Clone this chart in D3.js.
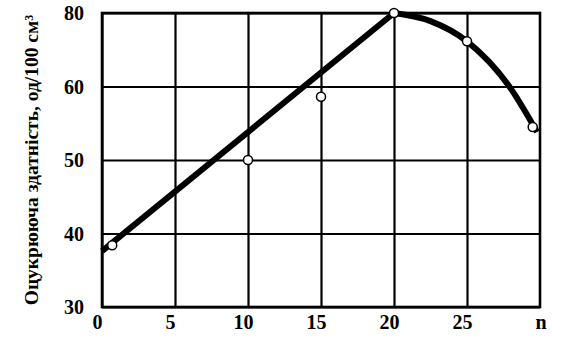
<!DOCTYPE html>
<html>
<head>
<meta charset="utf-8">
<script src="https://cdn.jsdelivr.net/npm/d3@7"></script>
<style>
  body { margin: 0; background: #fff; }
  text { font-family: "Liberation Serif", "Times New Roman", serif; font-weight: bold; fill: #000; }
</style>
</head>
<body>
<div id="chart"></div>
<script>
/* DATA */
const xTicks = [0, 5, 10, 15, 20, 25];
const yTicks = [30, 40, 50, 60, 80];   // the axis is printed 30,40,50,60,80 at equal steps
const xLabel = "n";
const yLabel = "Оцукрююча здатність, од/100 см";

// measured points (n, value)
const pointsN = [0.7, 10, 15, 20, 25, 29.5];
const pointsV = [38.4, 50, 58.6, 80, 72.3, 54.5];

// fitted straight part and the falling curve
const lineN = [0, 20];
const lineV = [37.6, 80];
const curveN = [20, 22.5, 25, 27.9, 29.8];
const curveV = [80, 77.8, 72.3, 60, 53.8];

/* LAYOUT */
const width = 574, height = 348;
const margin = { top: 13, right: 34, bottom: 41, left: 102 };

const svg = d3.select("#chart").append("svg")
  .attr("width", width)
  .attr("height", height);

const xScale = d3.scaleLinear()
  .domain([0, 30])
  .range([margin.left, width - margin.right]);

// polylinear scale: every printed tick is one equal step
const yStep = (height - margin.bottom - margin.top) / (yTicks.length - 1);
const yScale = d3.scaleLinear()
  .domain(yTicks)
  .range(yTicks.map((d, i) => height - margin.bottom - i * yStep));

const plotH = height - margin.bottom - margin.top;
const plotW = width - margin.right - margin.left;

// grid through the axes
const xAxis = svg.append("g")
  .attr("transform", `translate(0,${height - margin.bottom})`)
  .call(d3.axisBottom(xScale).tickValues(xTicks).tickSize(-plotH).tickPadding(8).tickFormat(d3.format("d")));

const yAxis = svg.append("g")
  .attr("transform", `translate(${margin.left},0)`)
  .call(d3.axisLeft(yScale).tickValues(yTicks).tickSize(-plotW).tickPadding(18).tickFormat(d3.format("d")));

[xAxis, yAxis].forEach(g => {
  g.select(".domain").remove();
  g.selectAll(".tick line").attr("stroke", "#000").attr("stroke-width", 2.2);
  g.selectAll(".tick text").attr("font-size", 20);
});
xAxis.selectAll(".tick text").attr("dx", -5);
yAxis.selectAll(".tick text").attr("dy", "0.34em");

// frame
svg.append("rect")
  .attr("x", margin.left)
  .attr("y", margin.top)
  .attr("width", plotW)
  .attr("height", plotH)
  .attr("fill", "none")
  .attr("stroke", "#000")
  .attr("stroke-width", 2.6);

// axis names
svg.append("text")
  .attr("x", xScale(30) + 1)
  .attr("y", height - margin.bottom + 22)
  .attr("text-anchor", "middle")
  .attr("font-size", 20)
  .text(xLabel);

const yl = svg.append("text")
  .attr("transform", `translate(38,${margin.top + plotH / 2}) rotate(-90)`)
  .attr("text-anchor", "middle")
  .attr("font-size", 19.5);
yl.append("tspan").text(yLabel);
yl.append("tspan").attr("dy", "-0.45em").attr("font-size", 12).text("3");

// curves
const line = d3.line()
  .x(d => xScale(d[0]))
  .y(d => yScale(d[1]));

svg.append("path")
  .datum(lineN.map((n, i) => [n, lineV[i]]))
  .attr("d", line)
  .attr("fill", "none")
  .attr("stroke", "#000")
  .attr("stroke-width", 6);

svg.append("path")
  .datum(curveN.map((n, i) => [n, curveV[i]]))
  .attr("d", line.curve(d3.curveMonotoneX))
  .attr("fill", "none")
  .attr("stroke", "#000")
  .attr("stroke-width", 6);

// markers
svg.selectAll(".dot")
  .data(pointsN.map((n, i) => [n, pointsV[i]]))
  .join("circle")
  .attr("class", "dot")
  .attr("cx", d => xScale(d[0]))
  .attr("cy", d => yScale(d[1]))
  .attr("r", 4.5)
  .attr("fill", "#fff")
  .attr("stroke", "#000")
  .attr("stroke-width", 1.5);
</script>
</body>
</html>
